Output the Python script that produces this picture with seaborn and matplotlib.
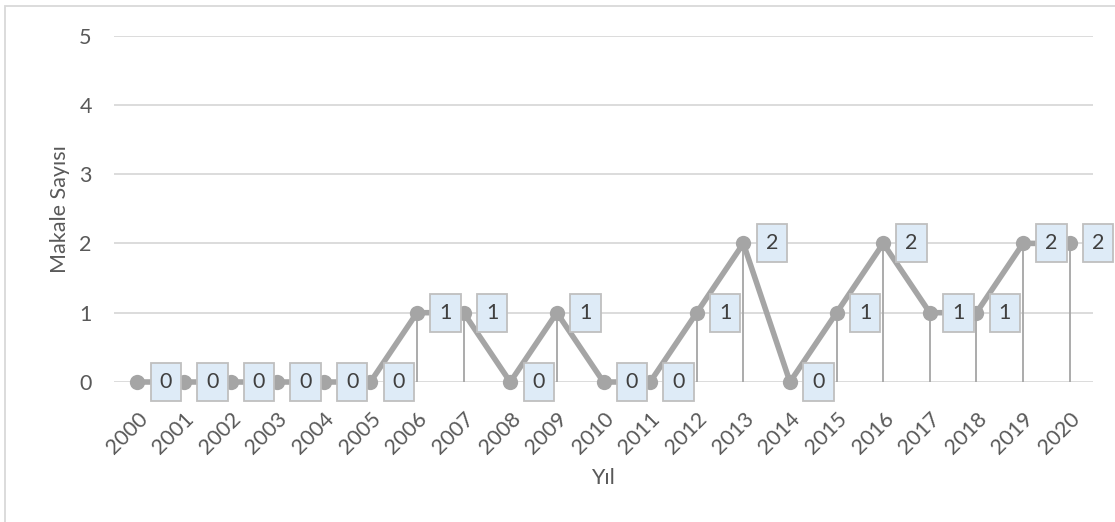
import matplotlib
matplotlib.use("Agg")
import matplotlib.pyplot as plt
import matplotlib.patches as mpatches
import seaborn as sns
import pandas as pd

years = [str(y) for y in range(2000, 2021)]
counts = [0, 0, 0, 0, 0, 0, 1, 1, 0, 1, 0, 0, 1, 2, 0, 1, 2, 1, 1, 2, 2]
y_ticks = [0, 1, 2, 3, 4, 5]
x_title = "Yıl"
y_title = "Makale Sayısı"

sns.set_theme(style="white")
plt.rcParams["font.family"] = ["Lato", "DejaVu Sans"]

TEXT = "#595959"
LINE = "#A5A5A5"
GRID = "#D9D9D9"
FS = 15.5
W, H = 1115, 522

df = pd.DataFrame({"year": years, "count": counts})

fig = plt.figure(figsize=(W / 100, H / 100), dpi=100)
ax = fig.add_axes([114 / W, 140 / H, (1093 - 114) / W, (486.5 - 140) / H])

# chart-area frame
fig.patches.append(mpatches.Rectangle((5 / W, -0.1), 1.2, 516 / H + 0.1,
                                      transform=fig.transFigure, fill=False,
                                      edgecolor="#D9D9D9", linewidth=1.3, zorder=0))

for t in y_ticks:
    ax.axhline(t, color=GRID, lw=1.3, zorder=0)

# drop lines from each point to the axis
xs = list(range(len(years)))
ax.vlines(xs, 0, counts, color=LINE, lw=1.3, zorder=1)

sns.lineplot(data=df, x="year", y="count", ax=ax, color=LINE, linewidth=4.0,
             marker="o", markersize=11, markeredgewidth=0, sort=False,
             clip_on=False, zorder=3)

for i, v in enumerate(counts):
    ax.annotate(str(v), xy=(i, v), xytext=(20.5, 0), textcoords="offset points",
                ha="center", va="center", fontsize=FS, color="#404040", zorder=5,
                annotation_clip=False,
                bbox=dict(boxstyle="square,pad=0.42", fc="#DEEBF7", ec="#BFBFBF", lw=1.3))

ax.set_xlim(-0.5, len(years) - 0.5)
ax.set_ylim(0, 5)
ax.set_yticks(y_ticks)
ax.set_yticklabels([str(t) for t in y_ticks])
ax.set_xticks(xs)
ax.set_xticklabels(years, rotation=45, ha="right", rotation_mode="anchor")
ax.tick_params(axis="both", length=0, labelsize=FS, labelcolor=TEXT)
ax.tick_params(axis="x", pad=19)
ax.tick_params(axis="y", pad=16)
for s in ax.spines.values():
    s.set_visible(False)

ax.set_xlabel("")
ax.set_ylabel("")
fig.text(603 / W, 1 - 478 / H, x_title, fontsize=FS, color=TEXT,
         ha="center", va="center")
fig.text(60 / W, 1 - 209 / H, y_title, fontsize=FS, color=TEXT,
         ha="center", va="center", rotation=90)

fig.savefig("out.png", dpi=100, facecolor="white")
